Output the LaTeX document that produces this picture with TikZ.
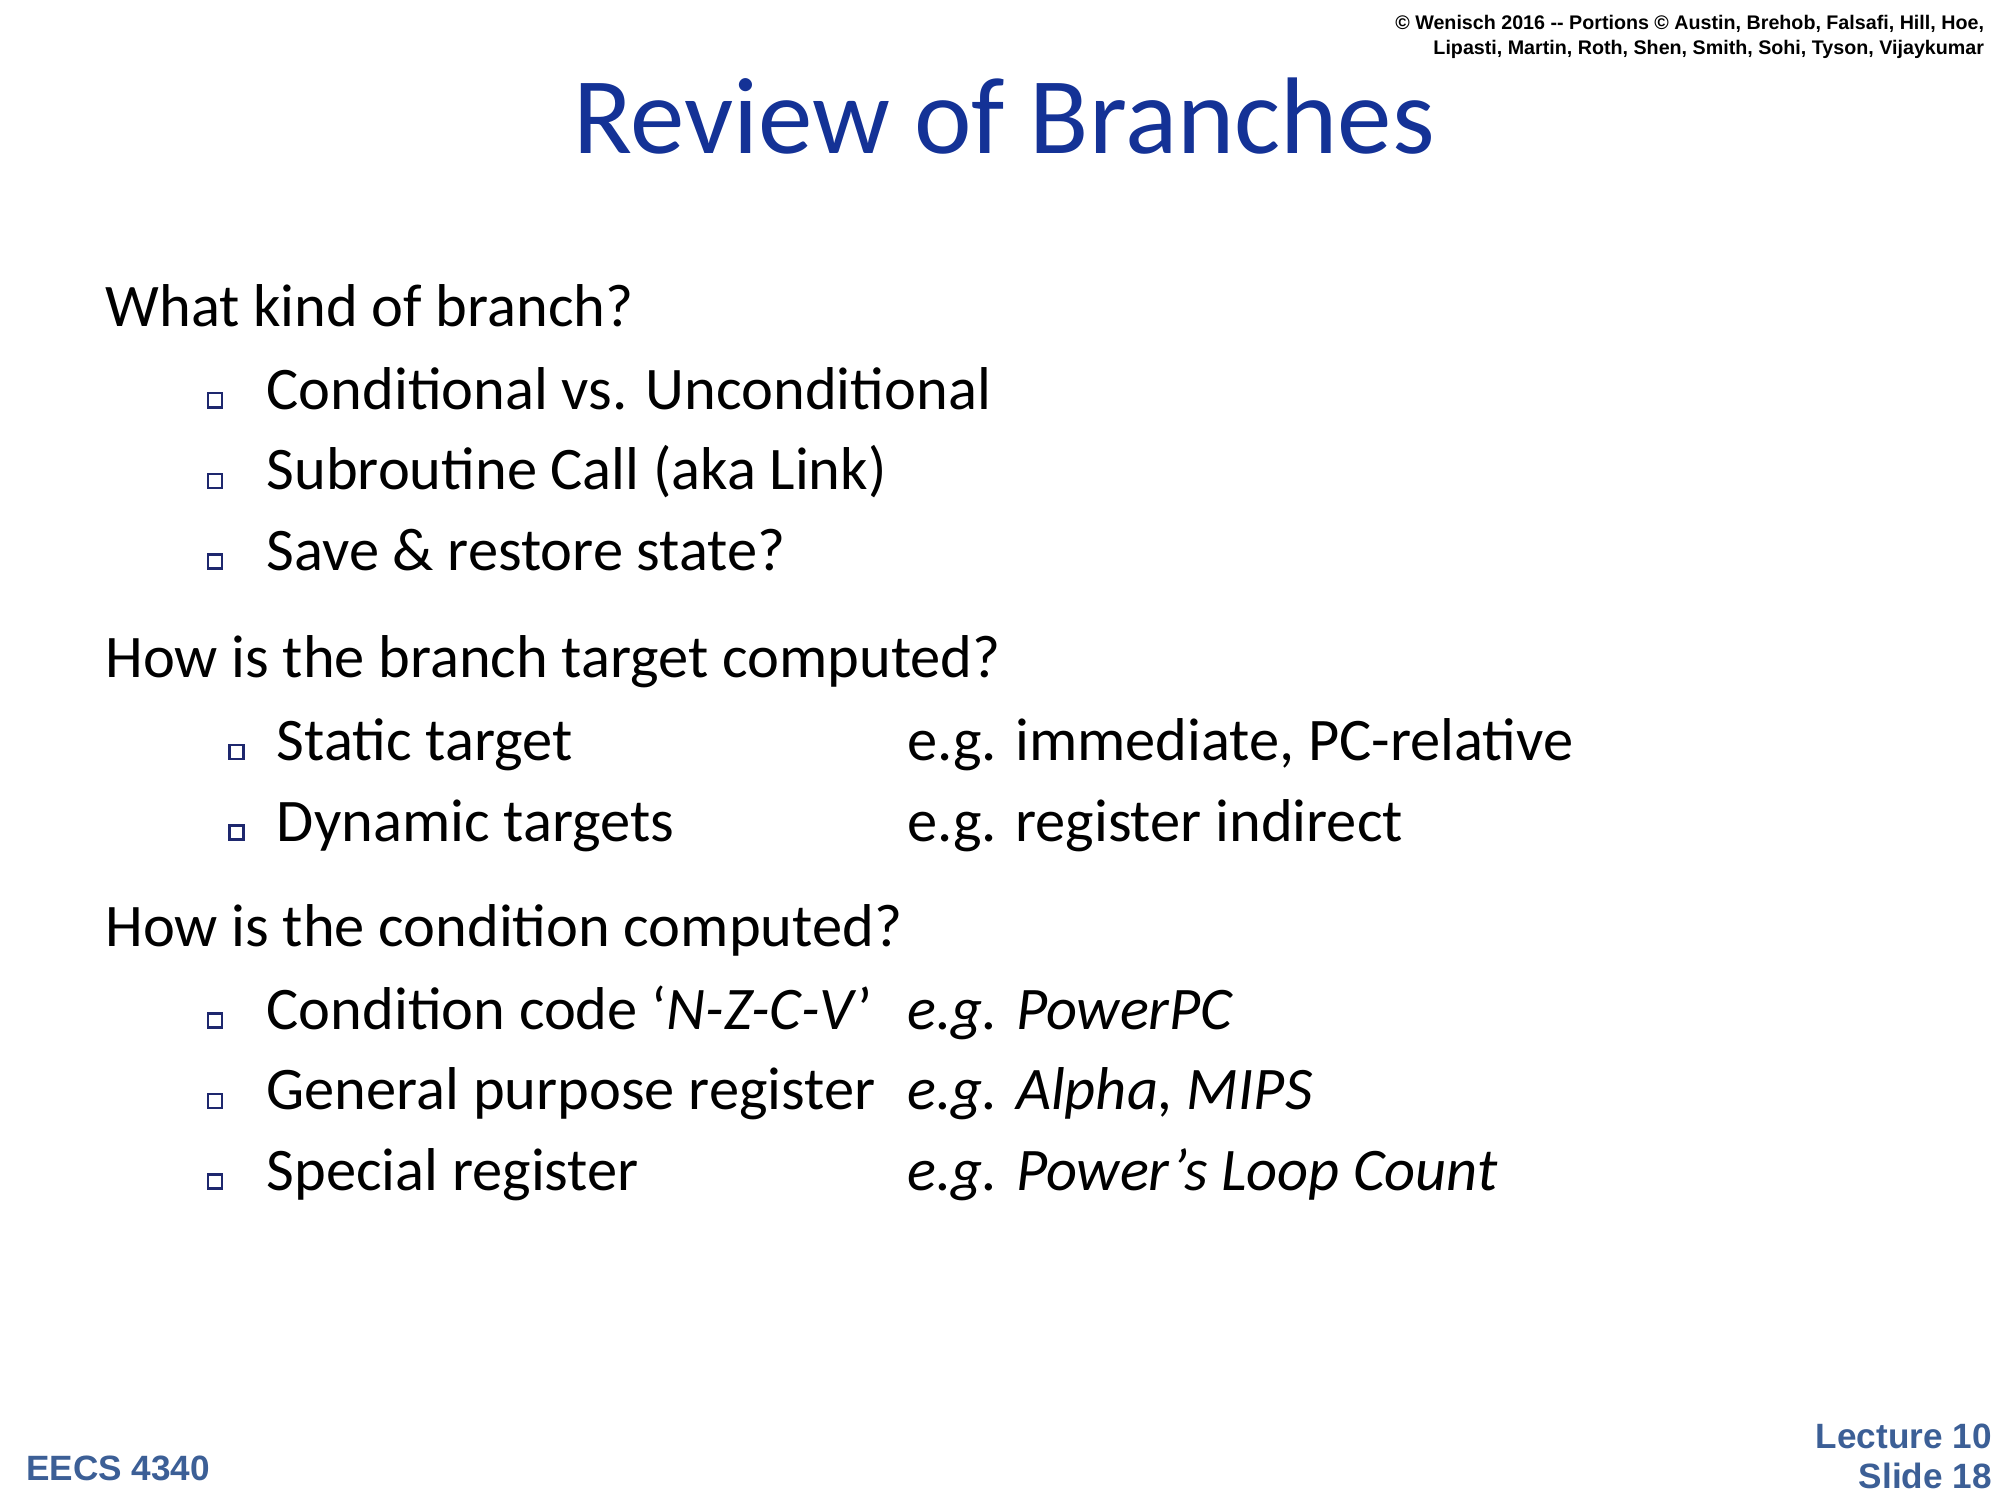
\documentclass[tikz,border=0pt]{standalone}
\usepackage{fontspec}
\setmainfont{Carlito}
\newfontfamily\arialfont{Liberation Sans}
\definecolor{titleblue}{RGB}{20,50,150}
\definecolor{footblue}{RGB}{60,95,150}
\definecolor{bulletblue}{RGB}{30,40,110}
\tikzset{
  body/.style={anchor=base west, inner sep=0pt, font=\fontsize{17.2}{20}\selectfont},
  bulletbox/.style={draw=bulletblue, line width=0.7pt, minimum size=4pt, inner sep=0pt}
}
\begin{document}
\begin{tikzpicture}[x=0.01279cm, y=-0.01279cm]
		\useasboundingbox (0,0) rectangle (1564,1172);
		\node[anchor=north east, inner sep=0pt, align=right, font=\arialfont\bfseries\fontsize{5.6}{7.2}\selectfont] (copy) at (1552,11) {© Wenisch 2016 -- Portions © Austin, Brehob, Falsafi, Hill, Hoe,\\Lipasti, Martin, Roth, Shen, Smith, Sohi, Tyson, Vijaykumar};
		\node[anchor=base, inner sep=0pt, text=titleblue, font=\fontsize{31}{36}\selectfont] (title) at (785,120) {Review of Branches};

		\node[body] (q1) at (82,255) {What kind of branch?};
		\node[body] (cond) at (208,320) {Conditional vs. Unconditional};
		\node[body] (call) at (208,383) {Subroutine Call (aka Link)};
		\node[body] (save) at (208,446) {Save \& restore state?};
		\node[body] (q2) at (82,530) {How is the branch target computed?};
		\node[body] (stat) at (216,595) {Static target};
		\node[body] (dyn) at (216,658) {Dynamic targets};
		\node[body] (statex) at (709,595) {e.g. immediate, PC-relative};
		\node[body] (dynex) at (709,658) {e.g. register indirect};
		\node[body] (q3) at (82,740) {How is the condition computed?};
		\node[body] (code) at (208,805) {Condition code ‘\textit{N-Z-C-V}’};
		\node[body] (gpr) at (208,868) {General purpose register};
		\node[body] (spec) at (208,931) {Special register};
		\node[body] (codeex) at (709,805) {\textit{e.g. PowerPC}};
		\node[body] (gprex) at (709,868) {\textit{e.g. Alpha, MIPS}};
		\node[body] (specex) at (709,931) {\textit{e.g. Power’s Loop Count}};

		% bullets
		\foreach \yy in {313,376,439,798,861,924}
			\node[bulletbox] at (168,\yy) {};
		\foreach \yy in {588,651}
			\node[bulletbox] at (185,\yy) {};

		\node[anchor=base west, inner sep=0pt, text=footblue, font=\arialfont\bfseries\fontsize{10}{12}\selectfont] (course) at (20,1158) {EECS 4340};
		\node[anchor=south east, inner sep=0pt, align=right, text=footblue, font=\arialfont\bfseries\fontsize{10}{11.4}\selectfont] (slide) at (1558,1165) {Lecture 10\\Slide 18};
	\end{tikzpicture}
\end{document}
